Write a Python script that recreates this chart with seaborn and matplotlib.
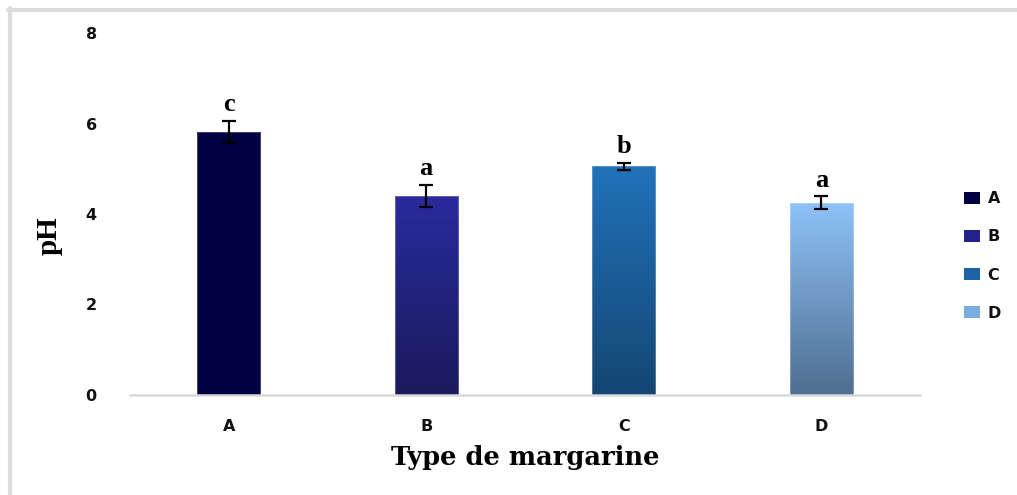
import numpy as np
import pandas as pd
import matplotlib
matplotlib.use("Agg")
import matplotlib.pyplot as plt
from matplotlib.colors import LinearSegmentedColormap
from matplotlib.patches import Patch
from matplotlib.lines import Line2D
import seaborn as sns

# Data
margarines = ["A", "B", "C", "D"]
ph_mean = [5.82, 4.40, 5.05, 4.25]
ph_sd = [0.24, 0.25, 0.08, 0.14]
letters = ["c", "a", "b", "a"]

# Bar colours (top, bottom) for the vertical gradient fill
top_colors = ["#000042", "#2a2a9e", "#2172ba", "#8ec2f8"]
bottom_colors = ["#000042", "#1a1a5c", "#144672", "#4f6e90"]
legend_colors = ["#000042", "#22228a", "#1b63a4", "#7aaee0"]

sns.set_theme(style="white")
plt.rcParams["font.family"] = ["DejaVu Sans"]
plt.rcParams["text.color"] = "black"
plt.rcParams["axes.labelcolor"] = "black"

fig = plt.figure(figsize=(10.17, 4.95), dpi=100)
ax = fig.add_axes([130 / 1017, 1 - 395 / 495, 790 / 1017, 362 / 495])

df = pd.DataFrame({"type": margarines, "ph": ph_mean})
sns.barplot(data=df, x="type", y="ph", hue="type", palette=legend_colors,
            width=0.32, legend=False, errorbar=None, ax=ax, zorder=2)

# Replace flat fills with vertical gradients clipped to each bar
for patch, c_top, c_bot in zip(ax.patches, top_colors, bottom_colors):
    x0, y0 = patch.get_x(), patch.get_y()
    w, h = patch.get_width(), patch.get_height()
    cmap = LinearSegmentedColormap.from_list("g", [c_bot, c_top])
    grad = np.linspace(0, 1, 256).reshape(-1, 1)
    im = ax.imshow(grad, cmap=cmap, aspect="auto", origin="lower",
                   extent=[x0, x0 + w, y0, y0 + h], zorder=2.5)
    im.set_clip_path(patch)
    patch.set_facecolor("none")
    patch.set_edgecolor((1, 1, 1, 0.25))
    patch.set_linewidth(0.8)
    patch.set_zorder(2.6)

ax.set_xlim(-0.5, 3.5)
ax.set_ylim(0, 8)

# Error bars
xs = np.arange(len(margarines))
ax.errorbar(xs, ph_mean, yerr=ph_sd, fmt="none", ecolor="black",
            elinewidth=1.6, capsize=5, capthick=1.6, zorder=4)

# Significance letters
for x, m, s, lab in zip(xs, ph_mean, ph_sd, letters):
    ax.text(x, m + s + 0.1, lab, ha="center", va="bottom",
            family="Liberation Serif", fontweight="bold", fontsize=19,
            color="black", zorder=5)

# Axes styling
for side in ["top", "right", "left"]:
    ax.spines[side].set_visible(False)
ax.spines["bottom"].set_color("#d9d9d9")
ax.spines["bottom"].set_linewidth(1.8)
ax.set_yticks([0, 2, 4, 6, 8])
ax.set_yticklabels(["0", "2", "4", "6", "8"])
ax.tick_params(axis="y", length=0, pad=24, labelsize=11.5)
ax.tick_params(axis="x", length=0, pad=17, labelsize=11.5)
for t in ax.get_xticklabels() + ax.get_yticklabels():
    t.set_fontweight("bold")
    t.set_color("#111111")

ax.set_ylabel("pH", family="Liberation Serif", fontweight="bold",
              fontsize=21, color="black")
ax.yaxis.set_label_coords(-67 / 790, 0.44)
ax.set_xlabel("Type de margarine", family="DejaVu Serif",
              fontweight="bold", fontsize=18.5, labelpad=8, color="black")

# Legend
handles = [Patch(facecolor=c, edgecolor="none") for c in legend_colors]
leg = fig.legend(handles, margarines, loc="center left",
                 bbox_to_anchor=(950 / 1017, 1 - 256 / 495),
                 frameon=False, handlelength=1.0, handleheight=0.8,
                 handletextpad=0.45, labelspacing=1.45,
                 prop={"weight": "bold", "size": 11.5})
for t in leg.get_texts():
    t.set_color("#111111")

# Frame lines along the top and left edges of the figure
fig.add_artist(Line2D([8 / 1017, 1], [1 - 10 / 495, 1 - 10 / 495],
                      transform=fig.transFigure, color="#dcdcdc", lw=3))
fig.add_artist(Line2D([10 / 1017, 10 / 1017], [0, 1 - 8 / 495],
                      transform=fig.transFigure, color="#dcdcdc", lw=3))

fig.savefig("out.png", dpi=100, facecolor="white")
